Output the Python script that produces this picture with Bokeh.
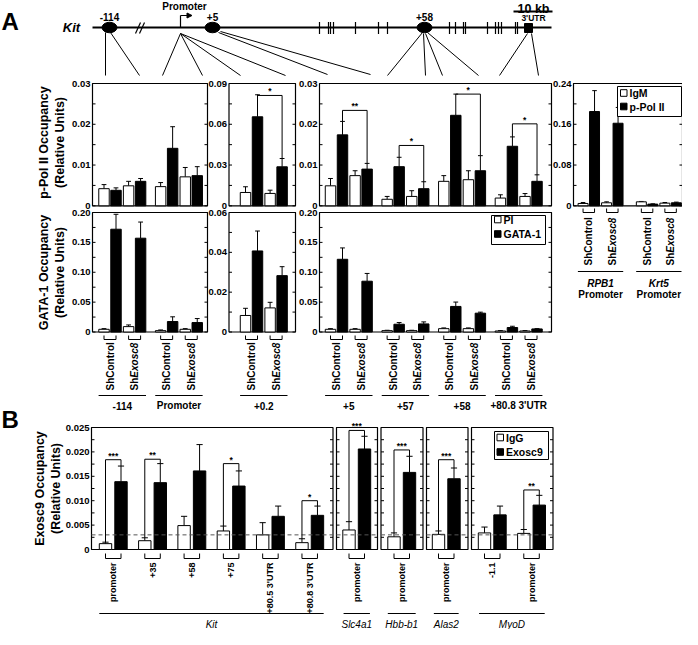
import math
from bokeh.plotting import figure
from bokeh.models import Range1d
from bokeh.core.properties import value
from bokeh.embed import file_html
from bokeh.resources import INLINE

FONT = "Liberation Sans"

# ---------------- DATA: panel A ----------------
# order inside each site: [ShControl ctrl-IgG, ShControl antibody, ShExosc8 ctrl-IgG, ShExosc8 antibody]
pol_sites_1 = ["-114", "Promoter"]
pol_1 = [[0.0042, 0.0038, 0.0049, 0.0060],
         [0.0047, 0.0141, 0.0071, 0.0074]]
pol_1_sd = [[0.0010, 0.0006, 0.0011, 0.0007],
            [0.0010, 0.0053, 0.0023, 0.0022]]
pol_sites_2 = ["+0.2"]
pol_2 = [[0.0098, 0.0655, 0.0091, 0.0287]]
pol_2_sd = [[0.0042, 0.0162, 0.0024, 0.0061]]
pol_sites_3 = ["+5", "+57", "+58", "+80.8 3'UTR"]
pol_3 = [[0.0049, 0.0174, 0.0074, 0.0090],
         [0.0016, 0.0096, 0.0023, 0.0042],
         [0.0060, 0.0222, 0.0064, 0.0086],
         [0.0019, 0.0146, 0.0023, 0.0060]]
pol_3_sd = [[0.0018, 0.0033, 0.0012, 0.0014],
            [0.0007, 0.0023, 0.0014, 0.0017],
            [0.0014, 0.0052, 0.0022, 0.0037],
            [0.0008, 0.0023, 0.0007, 0.0016]]
ctrl_genes = ["RPB1", "Krt5"]
pol_ctrl = [[0.0046, 0.185, 0.0059, 0.162],
            [0.0078, 0.0033, 0.0052, 0.0059]]
pol_ctrl_sd = [[0.0019, 0.041, 0.0019, 0.031],
               [0.0007, 0.0006, 0.0013, 0.0013]]
gata_1 = [[0.0045, 0.172, 0.0090, 0.157],
          [0.0023, 0.0175, 0.0045, 0.0158]]
gata_1_sd = [[0.0011, 0.025, 0.0028, 0.027],
             [0.0011, 0.0079, 0.0011, 0.0067]]
gata_2 = [[0.0083, 0.0407, 0.0121, 0.0283]]
gata_2_sd = [[0.0036, 0.0100, 0.0028, 0.0045]]
gata_3 = [[0.0045, 0.1217, 0.0045, 0.085],
          [0.0023, 0.0130, 0.0023, 0.0135],
          [0.0056, 0.0428, 0.0056, 0.0315],
          [0.0017, 0.0075, 0.0017, 0.0051]]
gata_3_sd = [[0.0011, 0.019, 0.0011, 0.013],
             [0.0006, 0.0028, 0.0006, 0.0034],
             [0.0012, 0.0073, 0.0012, 0.0017],
             [0.0006, 0.0021, 0.0006, 0.0005]]
# significance: (site index, stars, bracket level)
pol_2_sig = [(0, "*", 0.0812)]
pol_3_sig = [(0, "**", 0.0234), (1, "*", 0.0148), (2, "*", 0.0274), (3, "*", 0.0201)]

ticks_pol_1 = [0, 0.01, 0.02, 0.03]
labels_pol_1 = ["0", "0.01", "0.02", "0.03"]
ticks_pol_2 = [0, 0.03, 0.06, 0.09]
labels_pol_2 = ["0", "0.03", "0.06", "0.09"]
ticks_pol_ctrl = [0, 0.08, 0.16, 0.24]
labels_pol_ctrl = ["0", "0.08", "0.16", "0.24"]
ticks_gata_1 = [0, 0.05, 0.10, 0.15, 0.20]
labels_gata_1 = ["0", "0.05", "0.10", "0.15", "0.20"]
ticks_gata_2 = [0, 0.02, 0.04, 0.06]
labels_gata_2 = ["0", "0.02", "0.04", "0.06"]

# ---------------- DATA: panel B ----------------
kit_sites = ["promoter", "+35", "+58", "+75", "+80.5 3'UTR", "+80.8 3'UTR"]
kit_igg = [0.0012, 0.0018, 0.0049, 0.0038, 0.0030, 0.0014]
kit_igg_sd = [0.0003, 0.0006, 0.0019, 0.0010, 0.0025, 0.0008]
kit_exo = [0.0139, 0.0137, 0.0161, 0.0130, 0.0068, 0.0070]
kit_exo_sd = [0.0032, 0.0039, 0.0054, 0.0031, 0.0021, 0.0019]
kit_sig = [(0, "***", 0.0184), (1, "**", 0.0185), (3, "*", 0.0176), (5, "*", 0.0100)]
slc_sites = ["promoter"]
slc_igg, slc_igg_sd, slc_exo, slc_exo_sd = [0.0040], [0.0017], [0.0206], [0.0026]
slc_sig = [(0, "***", 0.0244)]
hbb_sites = ["promoter"]
hbb_igg, hbb_igg_sd, hbb_exo, hbb_exo_sd = [0.0026], [0.0008], [0.0158], [0.0033]
hbb_sig = [(0, "***", 0.0204)]
alas_sites = ["promoter"]
alas_igg, alas_igg_sd, alas_exo, alas_exo_sd = [0.0031], [0.0007], [0.0145], [0.0022]
alas_sig = [(0, "***", 0.0184)]
myod_sites = ["-1.1", "promoter"]
myod_igg = [0.0034, 0.0033]
myod_igg_sd = [0.0012, 0.0008]
myod_exo = [0.0071, 0.0091]
myod_exo_sd = [0.0018, 0.0020]
myod_sig = [(1, "**", 0.0122)]
b_threshold = 0.003
ticks_B = [0, 0.005, 0.010, 0.015, 0.020, 0.025]
labels_B = ["0", "0.005", "0.010", "0.015", "0.020", "0.025"]

# ---------------- canvas ----------------
W, H = 682, 629
p = figure(width=W, height=H, x_range=Range1d(8, 8 + W), y_range=Range1d(8 + H, 8),
           output_backend="svg", toolbar_location=None, min_border=0,
           x_axis_location=None, y_axis_location=None)
p.grid.visible = False
p.outline_line_color = None


def txt(tg, x, y, t, size=10, style="bold", align="center", baseline="middle", angle=0.0, **kw):
    tg.text(x=x, y=y, text=t, text_font=value(FONT), text_font_size=f"{size}px",
            text_font_style=style, text_align=align, text_baseline=baseline,
            angle=angle, text_color="black", **kw)


def make_panel(left, right, top, base, first_px, unit, ymax):
    x0 = -(first_px - left) / unit
    x1 = x0 + (right - left) / unit
    sub = p.subplot(x_source=Range1d(x0, x1), y_source=Range1d(0, ymax),
                    x_target=Range1d(left, right), y_target=Range1d(base, top))
    subx = p.subplot(x_source=Range1d(x0, x1), y_source=Range1d(0, 1),
                     x_target=Range1d(left, right), y_target=Range1d(0, 1))
    return dict(sub=sub, subx=subx, x0=x0, x1=x1, unit=unit,
                left=left, right=right, top=top, base=base)


def frame(pn, ticks, labels=None):
    sub = pn["sub"]
    step = ticks[1] - ticks[0]
    ys = [t for t in ticks] + [t + step / 2 for t in ticks[:-1]]
    n = len(ys)
    tl = 3.0 / pn["unit"]
    sub.segment(x0=[pn["x0"]] * n, x1=[pn["x0"] + tl] * n, y0=ys, y1=ys, line_color="black", line_width=1)
    sub.segment(x0=[pn["x1"]] * n, x1=[pn["x1"] - tl] * n, y0=ys, y1=ys, line_color="black", line_width=1)
    p.quad(left=[pn["left"]], right=[pn["right"]], top=[pn["top"]], bottom=[pn["base"]],
           fill_color=None, line_color="black", line_width=1.2)
    if labels:
        txt(sub, [pn["x0"]] * len(ticks), ticks, labels, size=9.5, align="right", x_offset=-2)


def bars(pn, xs, tops, sds, fills, width, cap=0.2):
    sub = pn["sub"]
    ets = [t + s for t, s in zip(tops, sds)]
    sub.segment(x0=xs, x1=xs, y0=tops, y1=ets, line_color="black", line_width=1)
    sub.segment(x0=[x - cap for x in xs], x1=[x + cap for x in xs], y0=ets, y1=ets,
                line_color="black", line_width=1)
    sub.vbar(x=xs, width=width, bottom=0, top=tops, fill_color=fills, line_color="black", line_width=1)
    return ets


def sig(pn, xa, xb, level, ya, yb, label):
    sub = pn["sub"]
    sub.segment(x0=[xa, xa, xb], x1=[xb, xa, xb], y0=[level] * 3, y1=[level, ya, yb],
                line_color="black", line_width=1)
    txt(sub, [(xa + xb) / 2], [level], [label], size=8.5, baseline="bottom", y_offset=1)


# ---------------- panel A ----------------
OFF_A = [0.0, 1.0, 2.05, 3.05]
PITCH_A = 4.72
UNIT_A = 12.0
FILLS4 = ["white", "black", "white", "black"]


def a_bars(pn, vals, sds, pitch):
    xs, tops, ss, fl = [], [], [], []
    for g in range(len(vals)):
        for k in range(4):
            xs.append(g * pitch + OFF_A[k])
            tops.append(vals[g][k])
            ss.append(sds[g][k])
            fl.append(FILLS4[k])
    ets = bars(pn, xs, tops, ss, fl, 0.87)
    return xs, ets


def a_sigs(pn, sigs, xs, ets):
    for g, lab, lev in sigs:
        ia, ib = 4 * g + 1, 4 * g + 3
        sig(pn, xs[ia], xs[ib], lev, ets[ia], ets[ib], lab)


def a_cond_labels(pn, sites, pitch, yb0, yb1, ylab, yline, ysite, site_style="bold", two_line=None):
    subx = pn["subx"]
    for g, s in enumerate(sites):
        for c in range(2):
            xa = g * pitch + OFF_A[2 * c]
            xb = g * pitch + OFF_A[2 * c + 1]
            subx.segment(x0=[xa, xa, xb], x1=[xb, xa, xb], y0=[yb1, yb0, yb0], y1=[yb1, yb1, yb1],
                         line_color="black", line_width=1)
            xc = (xa + xb) / 2
            if c == 0:
                txt(subx, [xc], [ylab], ["ShControl"], size=10, align="left", angle=math.pi / 2)
            else:
                txt(subx, [xc], [ylab], ["Sh"], size=10, align="left", angle=math.pi / 2)
                txt(subx, [xc], [ylab - 12.8], ["Exosc8"], size=10, style="bold italic",
                    align="left", angle=math.pi / 2)
        la = g * pitch + OFF_A[0] - 0.45
        lb = g * pitch + OFF_A[3] + 0.45
        subx.segment(x0=[la], x1=[lb], y0=[yline], y1=[yline], line_color="black", line_width=1)
        if two_line is None:
            txt(subx, [(la + lb) / 2], [ysite], [s], size=10, style=site_style)
        else:
            txt(subx, [(la + lb) / 2], [ysite], [s], size=10, style="bold italic")
            txt(subx, [(la + lb) / 2], [ysite + 11], [two_line], size=10, style="bold")


TOP1, BASE1 = 91, 213.3
TOP2, BASE2 = 220, 339.5

# p-Pol II row
pa1 = make_panel(100, 215, TOP1, BASE1, 111.5, UNIT_A, 0.03)
frame(pa1, ticks_pol_1, labels_pol_1)
a_bars(pa1, pol_1, pol_1_sd, PITCH_A)

pa2 = make_panel(236.5, 303, TOP1, BASE1, 253, UNIT_A, 0.09)
frame(pa2, ticks_pol_2, labels_pol_2)
xs, ets = a_bars(pa2, pol_2, pol_2_sd, PITCH_A)
a_sigs(pa2, pol_2_sig, xs, ets)

pa3 = make_panel(327, 559, TOP1, BASE1, 338, UNIT_A, 0.03)
frame(pa3, ticks_pol_1, labels_pol_1)
xs, ets = a_bars(pa3, pol_3, pol_3_sd, PITCH_A)
a_sigs(pa3, pol_3_sig, xs, ets)

unit4 = 109 / 9.5
pa4 = make_panel(581, 690, TOP1, BASE1, 581 + 0.833 * unit4, unit4, 0.24)
frame(pa4, ticks_pol_ctrl, labels_pol_ctrl)
a_bars(pa4, pol_ctrl, pol_ctrl_sd, 5.08)
a_cond_labels(pa4, ctrl_genes, 5.08, 216, 220, 273, 279, 291, two_line="Promoter")

# GATA-1 row
pg1 = make_panel(100, 215, TOP2, BASE2, 111.5, UNIT_A, 0.20)
frame(pg1, ticks_gata_1, labels_gata_1)
a_bars(pg1, gata_1, gata_1_sd, PITCH_A)
a_cond_labels(pg1, pol_sites_1, PITCH_A, 343, 347, 398, 403, 413)

pg2 = make_panel(236.5, 303, TOP2, BASE2, 253, UNIT_A, 0.06)
frame(pg2, ticks_gata_2, labels_gata_2)
a_bars(pg2, gata_2, gata_2_sd, PITCH_A)
a_cond_labels(pg2, pol_sites_2, PITCH_A, 343, 347, 398, 403, 413)

pg3 = make_panel(327, 559, TOP2, BASE2, 338, UNIT_A, 0.20)
frame(pg3, ticks_gata_1, labels_gata_1)
a_bars(pg3, gata_3, gata_3_sd, PITCH_A)
a_cond_labels(pg3, pol_sites_3, PITCH_A, 343, 347, 398, 403, 413)


def legend(x0, x1, y0, y1, sq, ty, names, size=10.5):
    p.quad(left=[x0], right=[x1], top=[y0], bottom=[y1], fill_color="white", line_color="black", line_width=1)
    for (yc, nm, fc) in zip(ty, names, ["white", "black"]):
        p.quad(left=[sq], right=[sq + 6.5], top=[yc - 3.3], bottom=[yc + 3.3], fill_color=fc,
               line_color="black", line_width=1)
        txt(p, [sq + 9], [yc], [nm], size=size, align="left")


legend(625, 689, 94, 124, 628, [100.5, 114], ["IgM", "p-Pol II"])
legend(499, 553, 223, 252, 502, [227, 241.5], ["PI", "GATA-1"])

# ---------------- panel B ----------------
TOPB, BASEB = 435, 557
UNIT_B = 15.5
PITCH_B = 2.535


def b_panel(left, right, first_px, sites, igg, igg_sd, exo, exo_sd, sigs, labels=None):
    pn = make_panel(left, right, TOPB, BASEB, first_px, UNIT_B, 0.025)
    frame(pn, ticks_B, labels)
    xs, tops, ss, fl = [], [], [], []
    for i in range(len(sites)):
        xs += [i * PITCH_B, i * PITCH_B + 1]
        tops += [igg[i], exo[i]]
        ss += [igg_sd[i], exo_sd[i]]
        fl += ["white", "black"]
    ets = bars(pn, xs, tops, ss, fl, 0.8)
    pn["sub"].segment(x0=[pn["x0"]], x1=[pn["x1"]], y0=[b_threshold], y1=[b_threshold],
                      line_color="#555555", line_width=1, line_dash="4 3")
    for i, lab, lev in sigs:
        sig(pn, xs[2 * i], xs[2 * i + 1], lev, ets[2 * i], ets[2 * i + 1], lab)
    subx = pn["subx"]
    for i, s in enumerate(sites):
        xa, xb = xs[2 * i], xs[2 * i + 1]
        subx.segment(x0=[xa, xa, xb], x1=[xb, xa, xb], y0=[566, 561, 561], y1=[566, 566, 566],
                     line_color="black", line_width=1)
        txt(subx, [(xa + xb) / 2], [570], [s], size=9, style="bold", align="right",
            angle=math.pi / 2)
    return pn, xs


pk, xk = b_panel(99, 340.5, 113, kit_sites, kit_igg, kit_igg_sd, kit_exo, kit_exo_sd, kit_sig, labels_B)
ps, xsl = b_panel(344, 385, 356.5, slc_sites, slc_igg, slc_igg_sd, slc_exo, slc_exo_sd, slc_sig)
ph, xh = b_panel(388.5, 430.5, 401.5, hbb_sites, hbb_igg, hbb_igg_sd, hbb_exo, hbb_exo_sd, hbb_sig)
pal, xal = b_panel(434, 475.5, 446, alas_sites, alas_igg, alas_igg_sd, alas_exo, alas_exo_sd, alas_sig)
pm, xm = b_panel(479, 560.5, 492, myod_sites, myod_igg, myod_igg_sd, myod_exo, myod_exo_sd, myod_sig)

for pn, xx, name, pad in [(pk, xk, "Kit", 0.4), (ps, xsl, "Slc4a1", 0.35), (ph, xh, "Hbb-b1", 0.4),
                          (pal, xal, "Alas2", 0.3), (pm, xm, "MyoD", 0.35)]:
    la, lb = xx[0] - pad, xx[-1] + pad
    pn["subx"].segment(x0=[la], x1=[lb], y0=[621], y1=[621], line_color="black", line_width=1)
    txt(pn["subx"], [(la + lb) / 2], [632], [name], size=10, style="italic")

legend(502, 556, 439, 467, 504.5, [445, 459.5], ["IgG", "Exosc9"])

# ---------------- axis titles & panel letters ----------------
for yc, t1 in [(150, "p-Pol II Occupancy"), (280, "GATA-1 Occupancy")]:
    txt(p, [51], [yc], [t1], size=12.5, angle=math.pi / 2)
    txt(p, [67], [yc], ["(Relative Units)"], size=12.5, angle=math.pi / 2)
txt(p, [47], [496], ["Exosc9 Occupancy"], size=12.5, angle=math.pi / 2)
txt(p, [63], [496], ["(Relative Units)"], size=12.5, angle=math.pi / 2)
txt(p, [9], [29], ["A"], size=24, align="left")
txt(p, [9], [427], ["B"], size=24, align="left")

# ---------------- gene schematic ----------------
p.segment(x0=[100], x1=[559], y0=[35], y1=[35], line_color="black", line_width=1.8)
txt(p, [79], [35], ["Kit"], size=13, style="bold italic")
p.ellipse(x=[117, 220, 432], y=[35, 35, 35], width=15, height=10.5, fill_color="black", line_color="black")
txt(p, [117, 220, 432], [24, 24, 24], ["-114", "+5", "+58"], size=10)
p.segment(x0=[143, 147], x1=[148, 152], y0=[41, 41], y1=[30, 30], line_color="black", line_width=1.2)
exons = [327, 336, 338, 341, 363, 386, 395, 457, 463, 471, 473, 495, 503, 506, 509, 523, 525]
p.segment(x0=exons, x1=exons, y0=[29.5] * len(exons), y1=[41.5] * len(exons), line_color="black", line_width=1.2)
p.quad(left=[532], right=[540], top=[31], bottom=[40], fill_color="black", line_color="black")
p.segment(x0=[188, 188], x1=[188, 195], y0=[35, 23], y1=[23, 23], line_color="black", line_width=1.2)
p.patch(x=[194.5, 194.5, 199.5], y=[20.5, 25.5, 23], fill_color="black", line_color="black")
txt(p, [192], [13.5], ["Promoter"], size=10)
txt(p, [541], [16], ["10 kb"], size=12.5, baseline="alphabetic")
p.segment(x0=[521], x1=[560], y0=[19], y1=[19], line_color="black", line_width=2)
txt(p, [541], [25.5], ["3'UTR"], size=8.5)

conn_x0 = [113, 118, 188, 188, 188, 188, 226, 228, 430, 431, 433, 435, 535, 539]
conn_y0 = [40, 40, 41, 41, 41, 41, 40, 39, 40, 41, 41, 40, 41, 41]
conn_x1 = [113, 147, 170, 210, 248, 293, 335, 378, 395, 433, 450, 486, 507, 546]
conn_y1 = [83, 83, 83, 83, 83, 83, 82, 82, 83, 83, 83, 83, 83, 83]
p.segment(x0=conn_x0, y0=conn_y0, x1=conn_x1, y1=conn_y1, line_color="black", line_width=1)

open("out.html", "w").write(file_html(p, INLINE))
